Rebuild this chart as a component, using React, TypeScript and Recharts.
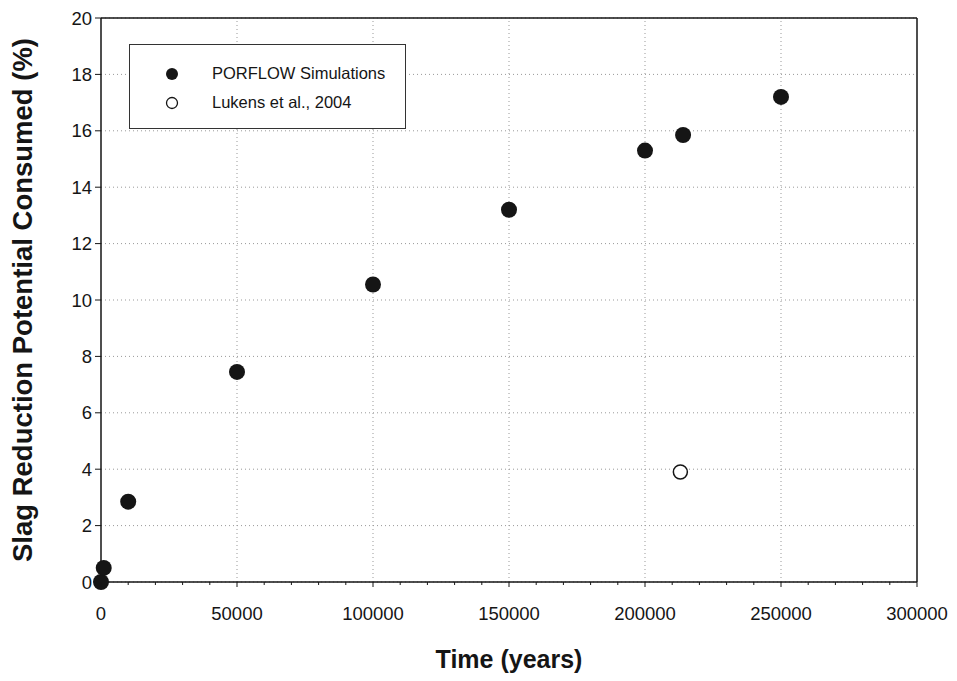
import { ScatterChart, Scatter, XAxis, YAxis, CartesianGrid, ReferenceLine, Legend } from 'recharts';

// PORFLOW simulation results
const porflowTime = [0, 1000, 10000, 50000, 100000, 150000, 200000, 214000, 250000];
const porflowConsumed = [0, 0.5, 2.85, 7.45, 10.55, 13.2, 15.3, 15.85, 17.2];

// Lukens et al. (2004) estimate
const lukensTime = [213000];
const lukensConsumed = [3.9];

const seriesNames = ['PORFLOW Simulations', 'Lukens et al., 2004'];

const xTicks = Array.from({ length: 31 }, (_, i) => i * 10000);
const xMajorTicks = [0, 50000, 100000, 150000, 200000, 250000, 300000];
const yTicks = [0, 2, 4, 6, 8, 10, 12, 14, 16, 18, 20];

const porflowData = porflowTime.map((t, i) => ({ time: t, consumed: porflowConsumed[i] }));
const lukensData = lukensTime.map((t, i) => ({ time: t, consumed: lukensConsumed[i] }));

const FONT = 'Liberation Sans, Arial, sans-serif';
const INK = '#151515';

function XTick(props: any) {
  const { x, y, payload } = props;
  const major = payload.value % 50000 === 0;
  return (
    <g>
      <line x1={x} y1={y} x2={x} y2={y + (major ? 5 : 3)} stroke={INK} strokeWidth={1} />
      {major && (
        <text x={x} y={y + 25} dy="0.71em" textAnchor="middle" fontSize={18.5} fill={INK} fontFamily={FONT}>
          {payload.value}
        </text>
      )}
    </g>
  );
}

function FilledDot(props: any) {
  return <circle cx={props.cx} cy={props.cy} r={8} fill={INK} />;
}

function OpenDot(props: any) {
  return <circle cx={props.cx} cy={props.cy} r={7} fill="#fff" stroke={INK} strokeWidth={1.5} />;
}

function LegendBox(props: any) {
  const payload = [...(props.payload || [])].sort(
    (a: any, b: any) => seriesNames.indexOf(a.value) - seriesNames.indexOf(b.value)
  );
  return (
    <div
      style={{
        width: 277,
        height: 85,
        boxSizing: 'border-box',
        border: '1.5px solid #333',
        background: '#fff',
        paddingTop: 14,
        fontFamily: FONT,
        fontSize: 16.5,
        color: INK,
      }}
    >
      {payload.map((entry: any) => (
        <div key={entry.value} style={{ display: 'flex', alignItems: 'center', height: 29 }}>
          <svg width={82} height={20} style={{ flexShrink: 0 }}>
            {entry.value === seriesNames[0] ? (
              <circle cx={42} cy={10} r={6} fill={INK} />
            ) : (
              <circle cx={42} cy={10} r={5.5} fill="#fff" stroke={INK} strokeWidth={1.3} />
            )}
          </svg>
          <span>{entry.value}</span>
        </div>
      ))}
    </div>
  );
}

export default function App() {
  return (
    <div style={{ width: 949, height: 673, background: '#fff' }}>
      <ScatterChart width={949} height={673} margin={{ top: 10, right: 40, left: 0, bottom: 0 }}>
        <CartesianGrid vertical={false} stroke="#999" strokeDasharray="1 3" />
        {xMajorTicks.slice(1, -1).map(t => (
          <ReferenceLine key={t} x={t} stroke="#999" strokeDasharray="1 3" />
        ))}
        <ReferenceLine y={20} stroke={INK} strokeWidth={1.5} />
        <ReferenceLine x={300000} stroke={INK} strokeWidth={1.5} />
        <XAxis
          type="number"
          dataKey="time"
          domain={[0, 300000]}
          ticks={xTicks}
          interval={0}
          tick={<XTick />}
          tickLine={false}
          tickSize={0}
          tickMargin={0}
          height={99}
          axisLine={{ stroke: INK, strokeWidth: 1.5 }}
          label={{
            value: 'Time (years)',
            position: 'insideBottom',
            offset: 13,
            style: { fontFamily: FONT, fontSize: 25, fontWeight: 'bold', fill: INK },
          }}
        />
        <YAxis
          type="number"
          dataKey="consumed"
          domain={[0, 20]}
          ticks={yTicks}
          interval={0}
          width={93}
          tickSize={6}
          tickMargin={3}
          tick={{ fontFamily: FONT, fontSize: 18.5, fill: INK }}
          tickLine={{ stroke: INK }}
          axisLine={{ stroke: INK, strokeWidth: 1.5 }}
          label={{
            value: 'Slag Reduction Potential Consumed (%)',
            angle: -90,
            position: 'insideLeft',
            offset: 14,
            style: { textAnchor: 'middle', fontFamily: FONT, fontSize: 27.5, fontWeight: 'bold', fill: INK },
          }}
        />
        <Legend
          layout="horizontal"
          align="center"
          verticalAlign="middle"
          content={<LegendBox />}
          wrapperStyle={{ left: 121, top: 36, width: 277, height: 85 }}
        />
        <Scatter name={seriesNames[0]} data={porflowData} fill={INK} shape={<FilledDot />} isAnimationActive={false} />
        <Scatter name={seriesNames[1]} data={lukensData} fill="#fff" shape={<OpenDot />} isAnimationActive={false} />
      </ScatterChart>
    </div>
  );
}
